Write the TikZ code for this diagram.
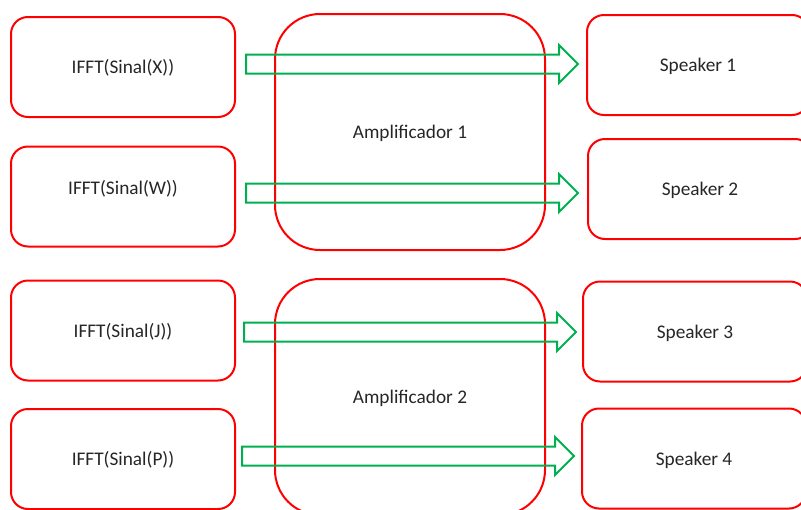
\documentclass[tikz,border=0pt]{standalone}
\usepackage{fontspec}
\setmainfont{Carlito}
\usetikzlibrary{calc}
\definecolor{boxred}{RGB}{255,0,0}
\definecolor{arrowgreen}{RGB}{0,176,80}

\begin{document}
\begin{tikzpicture}[x=1pt, y=-1pt,
  box/.style={draw=boxred, line width=2pt, rounded corners=17pt, align=center,
              minimum width=224pt, minimum height=100pt,
              text height=18pt, text depth=5pt,
              font=\fontsize{19.3}{23}\selectfont, text=black!85},
  amp/.style={box, rounded corners=45pt, minimum width=270pt, minimum height=236pt},
  blockarrow/.style={draw=arrowgreen, line width=2pt,
    to path={let \p1=(\tikztostart), \p2=(\tikztotarget) in
      (\x1,\y1+9.5) -- (\x2-19,\y1+9.5) -- (\x2-19,\y1+19) -- (\x2,\y1)
      -- (\x2-19,\y1-19) -- (\x2-19,\y1-9.5) -- (\x1,\y1-9.5) -- cycle}}]
  \useasboundingbox (0,0) rectangle (801,509);
  % amplifiers
  \node[amp] (amp1) at (410,132) {Amplificador 1};
  \node[amp] (amp2) at (410,397) {Amplificador 2};
  % signals
  \node[box] (sx) at (123,67)    {IFFT(Sinal(X))};
  \node[box, text depth=23pt] (sw) at (123,196.5) {IFFT(Sinal(W))};
  \node[box] (sj) at (123,330.5) {IFFT(Sinal(J))};
  \node[box] (sp) at (123,459)   {IFFT(Sinal(P))};
  % speakers
  \node[box, minimum width=222pt] (spk1) at (698,65) {Speaker 1};
  \node[box] (spk2) at (700,189)   {Speaker 2};
  \node[box] (spk3) at (695,331.5) {Speaker 3};
  \node[box] (spk4) at (694,458.5) {Speaker 4};
  % outputs
  \draw[blockarrow] ([xshift=10pt,yshift=3pt]sx.east)   to ([xshift=-8pt]spk1.west);
  \draw[blockarrow] ([xshift=10pt,yshift=3.5pt]sw.east) to ([xshift=-9pt]spk2.west);
  \draw[blockarrow] ([xshift=8pt,yshift=-1.5pt]sj.east) to ([xshift=-6pt]spk3.west);
  \draw[blockarrow] ([xshift=6pt,yshift=3pt]sp.east)    to ([xshift=-7pt]spk4.west);
\end{tikzpicture}
\end{document}
